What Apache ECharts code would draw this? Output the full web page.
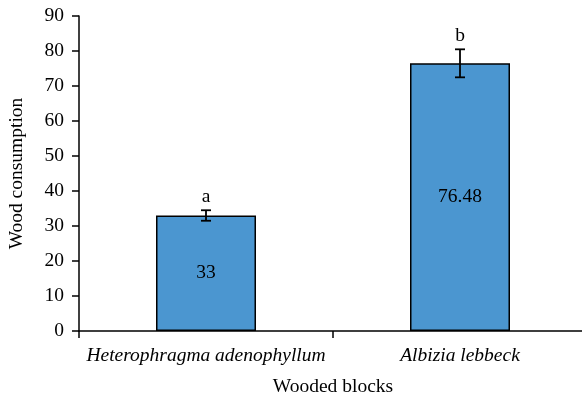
<!DOCTYPE html>
<html><head><meta charset="utf-8">
<script src="https://cdn.jsdelivr.net/npm/echarts@6/dist/echarts.min.js"></script>
<style>html,body{margin:0;padding:0;background:#fff}#c{width:582px;height:402px}</style>
</head><body><div id="c"></div>
<script>
const categories = ['Heterophragma adenophyllum', 'Albizia lebbeck'];
const values = [33, 76.48];
const valueLabels = ['33', '76.48'];
const errors = [1.5, 4];
const letters = ['a', 'b'];
const yTicks = [0, 10, 20, 30, 40, 50, 60, 70, 80, 90];

const font = 'Liberation Serif';
const fs = 19.5;
const chart = echarts.init(document.getElementById('c'), null, {renderer: 'canvas'});
chart.setOption({
  animation: false,
  backgroundColor: '#fff',
  grid: {left: 79, top: 16, height: 315, width: 508, containLabel: false, outerBoundsMode: 'none'},
  xAxis: {
    type: 'category', data: categories,
    name: 'Wooded blocks', nameLocation: 'middle', nameGap: 46,
    nameTextStyle: {fontFamily: font, fontSize: fs, color: '#000'},
    axisLine: {lineStyle: {color: '#000', width: 1.5}},
    axisTick: {show: true, length: 7, lineStyle: {color: '#000', width: 1.5}},
    axisLabel: {interval: 0, fontFamily: font, fontSize: fs, fontStyle: 'italic', color: '#000', margin: 15}
  },
  yAxis: {
    type: 'value', min: yTicks[0], max: yTicks[yTicks.length - 1], interval: 10,
    name: 'Wood consumption', nameLocation: 'middle', nameGap: 52,
    nameTextStyle: {fontFamily: font, fontSize: fs, color: '#000'},
    axisLine: {show: true, lineStyle: {color: '#000', width: 1.5}},
    axisTick: {show: true, length: 7, lineStyle: {color: '#000', width: 1.5}},
    axisLabel: {fontFamily: font, fontSize: fs, color: '#000', margin: 15},
    splitLine: {show: false}
  },
  series: [{
    type: 'bar', data: values, barWidth: 100,
    itemStyle: {color: '#4b96d0', borderColor: '#000', borderWidth: 1.5},
    label: {show: true, position: 'inside', fontFamily: font, fontSize: fs, color: '#000',
      formatter: p => valueLabels[p.dataIndex]}
  }, {
    type: 'custom', z: 10,
    data: values.map((v, i) => [i, v, errors[i]]),
    renderItem: function (params, api) {
      const i = api.value(0), v = api.value(1), e = api.value(2);
      const top = api.coord([i, v + e]);
      const bot = api.coord([i, v - e]);
      const hw = 5;
      return {type: 'group', children: [
        {type: 'line', shape: {x1: top[0], y1: top[1], x2: bot[0], y2: bot[1]}, style: {stroke: '#000', lineWidth: 1.8}},
        {type: 'line', shape: {x1: top[0] - hw, y1: top[1], x2: top[0] + hw, y2: top[1]}, style: {stroke: '#000', lineWidth: 1.8}},
        {type: 'line', shape: {x1: bot[0] - hw, y1: bot[1], x2: bot[0] + hw, y2: bot[1]}, style: {stroke: '#000', lineWidth: 1.8}},
        {type: 'text', style: {text: letters[i], x: top[0], y: top[1] - 3, align: 'center', verticalAlign: 'bottom',
          font: fs + 'px "Liberation Serif"', fill: '#000'}}
      ]};
    }
  }]
});
</script></body></html>
